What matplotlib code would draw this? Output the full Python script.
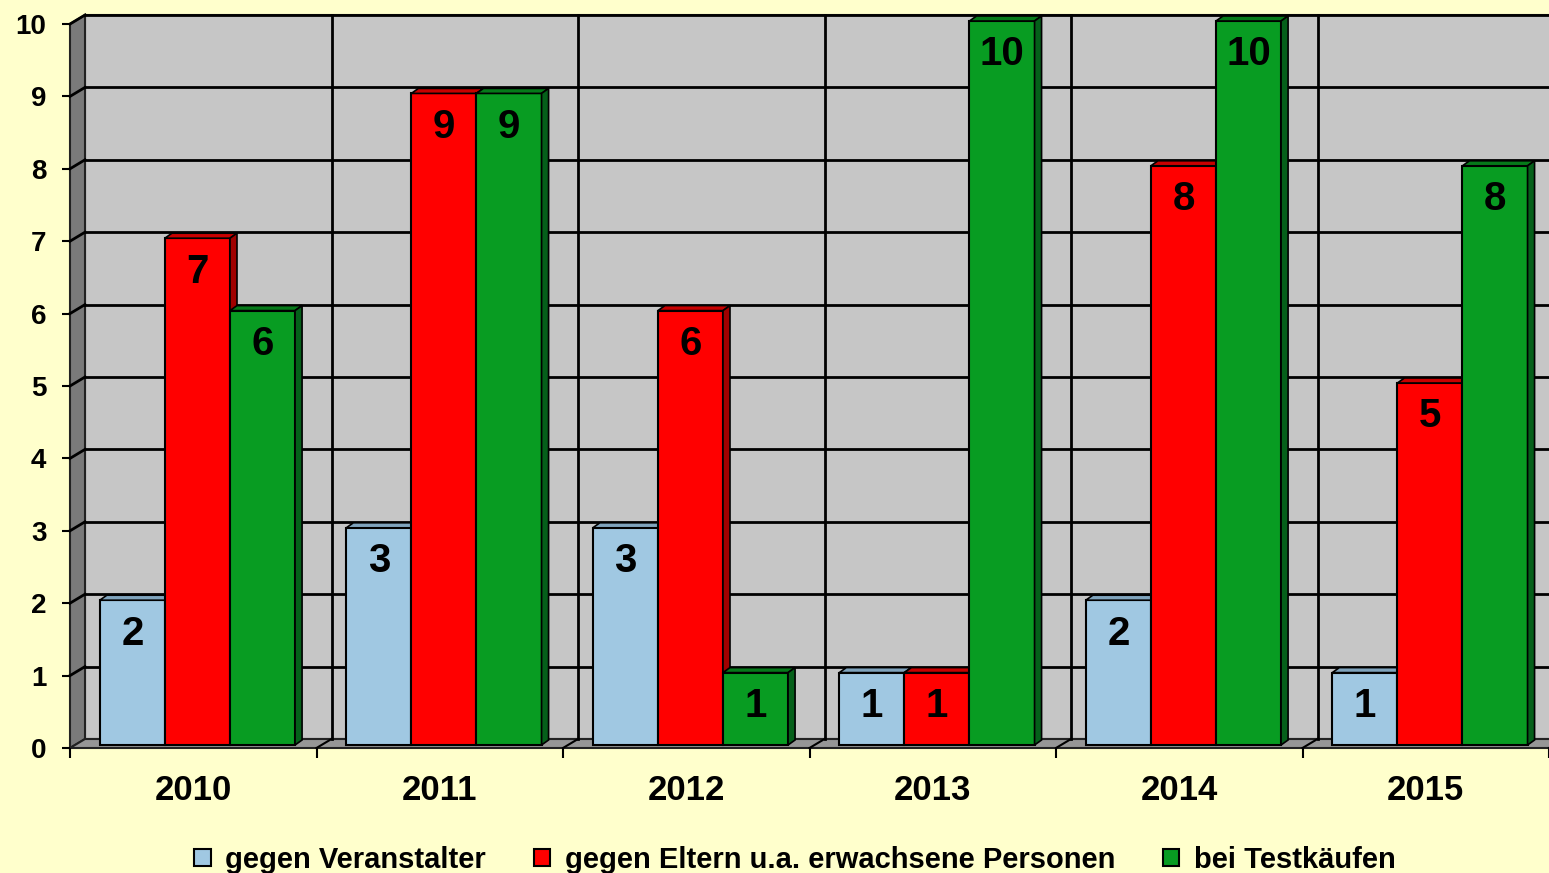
import matplotlib
matplotlib.use("Agg")
import matplotlib.pyplot as plt
import matplotlib.transforms as mtransforms
from matplotlib.patches import Polygon, Rectangle
import numpy as np

years = ["2010", "2011", "2012", "2013", "2014", "2015"]
series_names = ["gegen Veranstalter", "gegen Eltern u.a. erwachsene Personen", "bei Testkäufen"]
veranstalter = [2, 3, 3, 1, 2, 1]
eltern = [7, 9, 6, 1, 8, 5]
testkaeufe = [6, 9, 1, 10, 10, 8]
y_ticks = list(range(0, 11))

front_cols = ["#A0C8E2", "#FF0000", "#089C22"]
top_cols = ["#7FA3BC", "#C80000", "#067A1A"]
side_cols = ["#6F8EA3", "#A00000", "#05601A"]

plt.rcParams['font.family'] = ['Liberation Sans', 'DejaVu Sans']
plt.rcParams['font.weight'] = 'bold'

W, H = 1549, 873
fig = plt.figure(figsize=(W / 100, H / 100), dpi=100, facecolor="#FFFFCC")
ax = fig.add_axes([70 / W, (H - 748) / H, 1479 / W, 724 / H])
ax.set_xlim(0, 6)
ax.set_ylim(0, 10)
ax.set_facecolor("none")
for s in ax.spines.values():
    s.set_visible(False)

WDX, WDY = 15, 9   # wall depth offset in pixels
BDX, BDY = 7, 5    # bar depth offset in pixels
ident = mtransforms.IdentityTransform()
back = mtransforms.offset_copy(ax.transData, fig=fig, x=WDX, y=WDY, units='dots')


def D(x, y):
    return ax.transData.transform((x, y))


# back wall
ax.add_patch(Rectangle((0, 0), 6, 10, transform=back, facecolor="#C6C6C6",
                       edgecolor="#333333", lw=1.5, clip_on=False, zorder=0))
# left wall
p0, p1 = D(0, 0), D(0, 10)
ax.add_patch(Polygon([p0, p1, p1 + [WDX, WDY], p0 + [WDX, WDY]], closed=True,
                     transform=ident, facecolor="#7A7A7A", edgecolor="#222222",
                     lw=1.5, clip_on=False, zorder=0.5))
# floor
q0, q1 = D(0, 0), D(6, 0)
ax.add_patch(Polygon([q0, q1, q1 + [WDX, WDY], q0 + [WDX, WDY]], closed=True,
                     transform=ident, facecolor="#969696", edgecolor="#222222",
                     lw=1.5, clip_on=False, zorder=0.5))
# horizontal gridlines on back wall + left wall diagonals
for yv in y_ticks[1:]:
    ax.plot([0, 6], [yv, yv], color="black", lw=2, transform=back, clip_on=False, zorder=1)
    a = D(0, yv)
    ax.plot([a[0], a[0] + WDX], [a[1], a[1] + WDY], color="black", lw=2,
            transform=ident, clip_on=False, zorder=1)
# vertical gridlines on back wall + floor diagonals
for xv in range(1, 7):
    ax.plot([xv, xv], [0, 10], color="black", lw=2, transform=back, clip_on=False, zorder=1)
    b = D(xv, 0)
    ax.plot([b[0], b[0] + WDX], [b[1], b[1] + WDY], color="black", lw=1.5,
            transform=ident, clip_on=False, zorder=1)

# bars
x = np.arange(len(years))
bw = 0.264
offsets = [0.249, 0.513, 0.777]
bar_base = mtransforms.offset_copy(ax.transData, fig=fig, x=1, y=3, units='dots')
all_vals = [veranstalter, eltern, testkaeufe]
z = 2
for i in range(len(years)):
    for k, vals in enumerate(all_vals):
        v = vals[i]
        x0 = x[i] + offsets[k] - bw / 2
        x1 = x0 + bw
        ax.bar(x0, v, width=bw, align='edge', color=front_cols[k], edgecolor="black",
               lw=1.5, transform=bar_base, zorder=z, clip_on=False)
        fl = bar_base.transform((x0, v))
        fr = bar_base.transform((x1, v))
        br = bar_base.transform((x1, 0))
        ax.add_patch(Polygon([fl, fr, fr + [BDX, BDY], fl + [BDX, BDY]], closed=True,
                             transform=ident, facecolor=top_cols[k], edgecolor="black",
                             lw=1.2, clip_on=False, zorder=z + 0.1))
        ax.add_patch(Polygon([br, fr, fr + [BDX, BDY], br + [BDX, BDY]], closed=True,
                             transform=ident, facecolor=side_cols[k], edgecolor="black",
                             lw=1.2, clip_on=False, zorder=z + 0.1))
        ax.annotate(str(v), xy=(x0 + bw / 2, v), xycoords=bar_base,
                    xytext=(0, -24), textcoords='offset points', ha='center', va='center',
                    fontsize=29, fontweight='bold', color="black", zorder=z + 0.5,
                    annotation_clip=False)
        z += 1

# ticks
ax.set_yticks(y_ticks)
ax.set_yticklabels([str(t) for t in y_ticks])
ax.tick_params(axis='y', length=6, width=1.5, pad=11, labelsize=20, direction='out')
ax.set_xticks(range(0, 7))
ax.set_xticklabels([])
ax.set_xticks(x + 0.5, minor=True)
ax.set_xticklabels(years, minor=True)
ax.tick_params(axis='x', which='major', length=7, width=1.5, direction='out')
ax.tick_params(axis='x', which='minor', length=0, pad=19, labelsize=25)
for lab in ax.get_xticklabels(minor=True) + ax.get_yticklabels():
    lab.set_fontweight('bold')

# legend
handles = [Rectangle((0, 0), 1, 1, facecolor=c, edgecolor="black", lw=1.5) for c in front_cols]
leg = fig.legend(handles, series_names, loc='center', bbox_to_anchor=(795 / W, 1 - 860 / H),
                 ncol=3, frameon=False, handlelength=0.55, handleheight=0.55,
                 handletextpad=0.5, columnspacing=1.65,
                 prop={'weight': 'bold', 'size': 21})

fig.savefig("out.png", dpi=100, facecolor=fig.get_facecolor())
